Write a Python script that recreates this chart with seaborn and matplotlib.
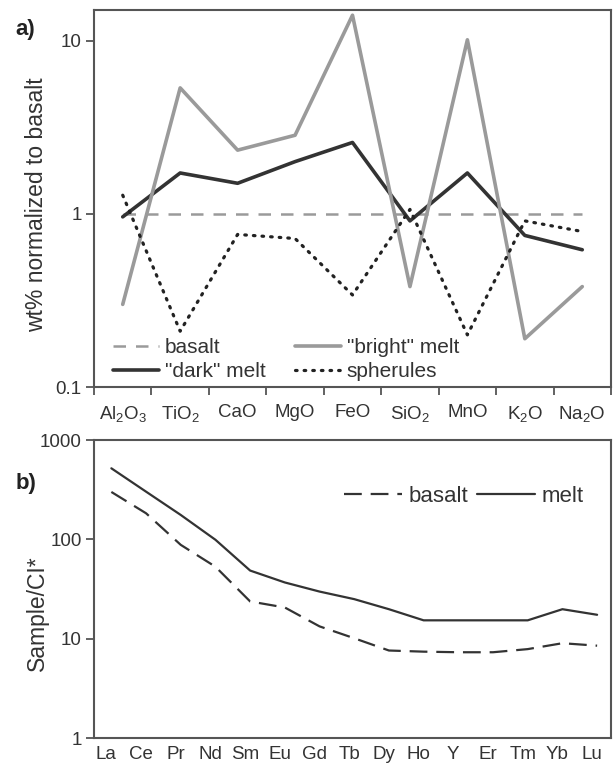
import numpy as np
import pandas as pd
import matplotlib
matplotlib.use("Agg")
import matplotlib.pyplot as plt
from matplotlib.transforms import ScaledTranslation
import seaborn as sns

# ---- data panel a ----
oxides = ["Al$_2$O$_3$", "TiO$_2$", "CaO", "MgO", "FeO", "SiO$_2$", "MnO", "K$_2$O", "Na$_2$O"]
basalt_a = [1, 1, 1, 1, 1, 1, 1, 1, 1]
bright_melt = [0.30, 5.33, 2.33, 2.84, 14.0, 0.38, 10.1, 0.19, 0.38]
dark_melt = [0.96, 1.72, 1.50, 2.00, 2.58, 0.91, 1.72, 0.75, 0.62]
spherules = [1.28, 0.21, 0.76, 0.72, 0.34, 1.06, 0.20, 0.91, 0.79]

# ---- data panel b ----
ree = ["La", "Ce", "Pr", "Nd", "Sm", "Eu", "Gd", "Tb", "Dy", "Ho", "Y", "Er", "Tm", "Yb", "Lu"]
basalt_b = [300, 183, 88, 53, 23.7, 20.6, 13.3, 10.1, 7.6, 7.4, 7.3, 7.3, 7.85, 9.0, 8.5]
melt_b = [519, 302, 176, 99, 48.5, 36.8, 29.8, 25.0, 19.8, 15.3, 15.3, 15.3, 15.3, 19.8, 17.4]

sns.set_theme(style="ticks")
plt.rcParams["font.family"] = ["Liberation Sans", "DejaVu Sans"]
plt.rcParams["mathtext.default"] = "regular"

frame_col = "#555555"
text_col = "#333333"

fig = plt.figure(figsize=(6.14, 7.71), dpi=100)
ax1 = fig.add_axes([0.1531, 0.498, 0.8420, 0.489])
ax2 = fig.add_axes([0.1531, 0.0428, 0.8420, 0.3865])

xa = np.arange(len(oxides))
sns.lineplot(x=xa, y=basalt_a, ax=ax1, color="#9a9a9a", lw=1.8, label="basalt",
             linestyle=(0, (5, 4)))
sns.lineplot(x=xa, y=dark_melt, ax=ax1, color="#333333", lw=2.6, label='"dark" melt')
sns.lineplot(x=xa, y=bright_melt, ax=ax1, color="#9a9a9a", lw=2.6, label='"bright" melt')
sns.lineplot(x=xa, y=spherules, ax=ax1, color="#222222", lw=2.3, label="spherules",
             linestyle=(0, (0.5, 2.2)), dash_capstyle="round")
ax1.set_yscale("log")
ax1.set_ylim(0.1, 15)
ax1.set_xlim(-0.5, 8.5)
ax1.set_yticks([0.1, 1, 10])
ax1.set_yticklabels(["0.1", "1", "10"])
ax1.yaxis.set_minor_locator(matplotlib.ticker.NullLocator())
ax1.set_xticks(np.arange(-0.5, 9.0, 1.0))
ax1.set_xticklabels([])
ax1.set_xticks(xa, minor=True)
ax1.set_xticklabels(oxides, minor=True)
ax1.set_ylabel("wt% normalized to basalt", fontsize=16.5, color=text_col)
ax1.yaxis.set_label_coords(-0.088, 0.483)
ax1.legend(loc="lower left", bbox_to_anchor=(0.0, -0.035), ncol=2, frameon=False,
           fontsize=15, handlelength=2.2, handletextpad=0.3, columnspacing=1.4,
           labelspacing=0.25, labelcolor=text_col)

xb = np.arange(len(ree))
sns.lineplot(x=xb, y=basalt_b, ax=ax2, color="#333333", lw=1.6, label="basalt",
             linestyle=(0, (8, 4)))
sns.lineplot(x=xb, y=melt_b, ax=ax2, color="#333333", lw=1.6, label="melt")
ax2.set_yscale("log")
ax2.set_ylim(1, 1000)
ax2.set_xlim(-0.5, 14.4)
ax2.set_yticks([1, 10, 100, 1000])
ax2.set_yticklabels(["1", "10", "100", "1000"])
ax2.yaxis.set_minor_locator(matplotlib.ticker.NullLocator())
ax2.set_xticks(xb)
ax2.set_xticklabels(ree)
ax2.set_ylabel("Sample/CI*", fontsize=16.5, color=text_col)
ax2.yaxis.set_label_coords(-0.088, 0.42)
ax2.legend(loc="center left", bbox_to_anchor=(0.445, 0.81), ncol=2, frameon=False,
           fontsize=16, handlelength=2.6, handletextpad=0.3, columnspacing=0.4,
           labelcolor=text_col)

for ax in (ax1, ax2):
    ax.set_xlabel("")
    for s in ax.spines.values():
        s.set_color(frame_col)
        s.set_linewidth(1.5)
    ax.tick_params(axis="both", which="both", colors=frame_col, labelcolor=text_col,
                   labelsize=13.5, width=1.3)
    ax.tick_params(axis="y", length=6, pad=3)

ax1.tick_params(axis="x", which="major", length=6)
ax1.tick_params(axis="x", which="minor", length=0, pad=12)
ax2.tick_params(axis="x", which="major", length=0, pad=6)

off = ScaledTranslation(-5 / 100, 0, fig.dpi_scale_trans)
for lab in ax2.get_xticklabels():
    lab.set_transform(lab.get_transform() + off)

fig.text(0.025, 0.962, "a)", fontsize=16, fontweight="bold", color="#222222", va="center")
fig.text(0.025, 0.373, "b)", fontsize=16, fontweight="bold", color="#222222", va="center")

fig.savefig("out.png", dpi=100)
